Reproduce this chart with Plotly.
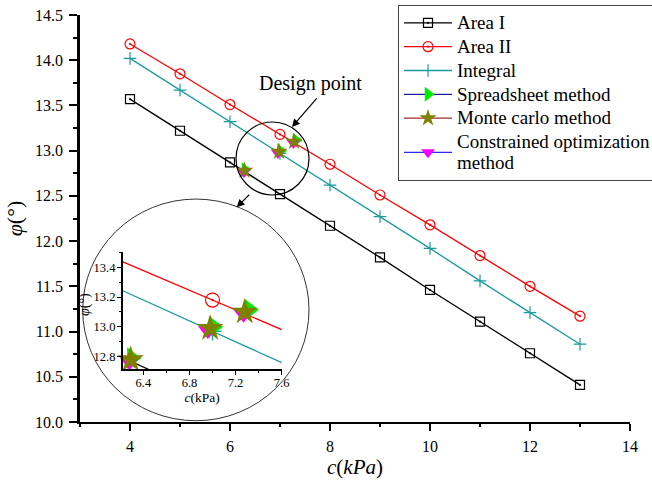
import plotly.graph_objects as go

# ---------------- data ----------------
c_values = [4, 5, 6, 7, 8, 9, 10, 11, 12, 13]
area1 = [13.57, 13.22, 12.87, 12.52, 12.17, 11.82, 11.46, 11.11, 10.76, 10.41]
area2 = [14.18, 13.85, 13.51, 13.18, 12.85, 12.51, 12.18, 11.84, 11.50, 11.17]
integral = [14.02, 13.67, 13.32, 12.97, 12.62, 12.27, 11.92, 11.56, 11.21, 10.86]

spreadsheet_c = [6.30, 7.01, 7.32]
spreadsheet_phi = [12.79, 13.00, 13.115]
montecarlo_c = [6.29, 6.98, 7.28]
montecarlo_phi = [12.78, 12.99, 13.10]
constrained_c = [6.28, 6.96, 7.27]
constrained_phi = [12.765, 12.975, 13.085]

FONT = "'Liberation Serif', 'Times New Roman', Times, serif"


def gapped(vals):
    out = []
    for i, v in enumerate(vals):
        if i:
            out.append(None)
        out.append(v)
    return out


def lg(t):
    return '<span style="font-size:19px">' + t + '</span>'


fig = go.Figure()

teal = "#1a9a9a"
curves = [
    ("Area I", area1, "black", "square-open-dot", 9, 10),
    ("Area II", area2, "red", "circle-open-dot", 10, 14),
    ("Integral", integral, teal, "cross-thin", 9, 13),
]
for i, (name, ys, col, sym, ms, ms_in) in enumerate(curves):
    fig.add_trace(go.Scatter(
        x=c_values, y=ys, name=lg(name), mode="lines+markers",
        line=dict(color=col, width=1.3),
        marker=dict(symbol=sym, size=ms, color=col, line=dict(color=col, width=1.2)),
        legendrank=i + 1, xaxis="x", yaxis="y"))

methods = [
    ("Spreadsheet method", spreadsheet_c, spreadsheet_phi, "#1c1ca0", "triangle-right", "#00ee00", 13, 19, 4),
    ("Constrained optimization&nbsp;&nbsp;&nbsp;<br>method", constrained_c, constrained_phi, "#2a2aff", "triangle-down", "#ff00ff", 12, 17, 6),
    ("Monte carlo method", montecarlo_c, montecarlo_phi, "#a02a2a", "star", "#808000", 13, 20, 5),
]
for name, cx, py, lcol, sym, mcol, ms, ms_in, rank in methods:
    fig.add_trace(go.Scatter(
        x=gapped(cx), y=gapped(py), name=lg(name), mode="lines+markers",
        connectgaps=False,
        line=dict(color=lcol, width=1.3),
        marker=dict(symbol=sym, size=ms, color=mcol, line=dict(width=0)),
        legendrank=rank, xaxis="x", yaxis="y"))

# ---------------- inset ----------------
for name, ys, col, sym, ms, ms_in in curves:
    fig.add_trace(go.Scatter(
        x=c_values, y=ys, mode="lines+markers", showlegend=False,
        line=dict(color=col, width=1.3),
        marker=dict(symbol=sym, size=ms_in, color=col, line=dict(color=col, width=1.2)),
        xaxis="x2", yaxis="y2", cliponaxis=True))
for name, cx, py, lcol, sym, mcol, ms, ms_in, rank in methods:
    fig.add_trace(go.Scatter(
        x=cx, y=py, mode="markers", showlegend=False,
        marker=dict(symbol=sym, size=ms_in, color=mcol, line=dict(width=0)),
        xaxis="x2", yaxis="y2", cliponaxis=False))

axis_common = dict(showgrid=False, zeroline=False, showline=True, linecolor="black",
                   ticks="outside", tickcolor="black", automargin=False, mirror=False)

fig.update_layout(
    width=652, height=480,
    margin=dict(l=80, r=22, t=15, b=58, autoexpand=False),
    paper_bgcolor="white", plot_bgcolor="rgba(0,0,0,0)",
    font=dict(family=FONT, color="black"),
    xaxis=dict(**axis_common, range=[3, 14], tick0=0, dtick=2, ticklen=7, tickwidth=1.5,
               linewidth=2, tickfont=dict(size=16, family=FONT), ticklabelstandoff=2,
               minor=dict(dtick=1, tick0=0, ticks="outside", ticklen=3, tickcolor="black", tickwidth=1.5),
               title=dict(text="<i>c</i>(<i>kPa</i>)", font=dict(size=21, family=FONT), standoff=4)),
    yaxis=dict(**axis_common, range=[10, 14.5], tick0=0, dtick=0.5, ticklen=8, tickwidth=1.5,
               linewidth=2.5, tickfont=dict(size=16, family=FONT), tickformat=".1f",
               ticklabelstandoff=3,
               minor=dict(dtick=0.25, tick0=0, ticks="outside", ticklen=4, tickcolor="black", tickwidth=1.5),
               title=dict(text="<i>φ</i>(°)", font=dict(size=22, family=FONT), standoff=7)),
    xaxis2=dict(**axis_common, domain=[0.0776, 0.3667], anchor="y2", range=[6.22, 7.601],
                tick0=6.4, dtick=0.4, ticklen=4, linewidth=1.5, tickwidth=1, tickformat=".1f",
                tickfont=dict(size=12.5, family=FONT), ticklabelstandoff=-3,
                minor=dict(dtick=0.2, tick0=6.4, ticks="outside", ticklen=2, tickcolor="black"),
                title=dict(text="<i>c</i>(kPa)", font=dict(size=13.5, family=FONT), standoff=2)),
    yaxis2=dict(**axis_common, domain=[0.1295, 0.4184], anchor="x2", range=[12.715, 13.505],
                tick0=12.8, dtick=0.2, ticklen=4, linewidth=1.5, tickwidth=1, tickformat=".1f",
                tickfont=dict(size=12.5, family=FONT), ticklabelstandoff=-1,
                minor=dict(dtick=0.1, tick0=12.8, ticks="outside", ticklen=2, tickcolor="black")),
    legend=dict(x=0.5782, y=1.0246, xanchor="left", yanchor="top",
                bgcolor="white", bordercolor="#444", borderwidth=1,
                font=dict(family=FONT, size=16, color="black"),
                itemwidth=48, tracegroupgap=0),
    shapes=[
        dict(type="circle", xref="x", yref="y", x0=6.12, x1=7.58, y0=12.51, y1=13.317,
             line=dict(color="black", width=1.2), layer="above"),
        dict(type="circle", xref="x", yref="y", x0=3.054, x1=7.58, y0=10.014, y1=12.465,
             line=dict(color="#333", width=1), layer="above"),
    ],
    annotations=[
        dict(text="Design point", x=7.6, y=13.748, xref="x", yref="y", showarrow=False,
             xanchor="center", yanchor="middle", font=dict(size=20, family=FONT)),
        dict(text="", x=7.24, y=13.262, xref="x", yref="y", ax=26, ay=-30, showarrow=True,
             arrowhead=2, arrowsize=1.3, arrowwidth=1.2, arrowcolor="black"),
        dict(text="", x=6.134, y=12.374, xref="x", yref="y", ax=14, ay=-14, showarrow=True,
             arrowhead=2, arrowsize=1.3, arrowwidth=1.2, arrowcolor="black"),
        dict(text="<i>φ</i>(°)", xref="paper", yref="paper", x=(85 - 80) / 550, y=(422 - 305) / 407,
             xanchor="center", yanchor="middle",
             showarrow=False, textangle=-90, font=dict(size=14, family=FONT)),
    ],
)

fig.write_html("out.html")
